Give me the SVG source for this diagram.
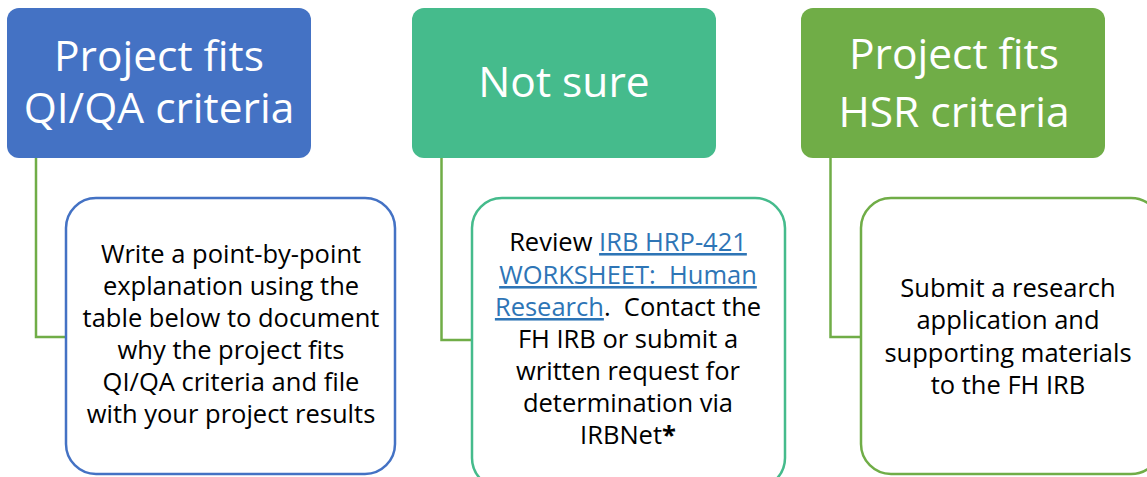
<svg xmlns="http://www.w3.org/2000/svg" width="1147" height="477" viewBox="0 0 1147 477">
<style>
.head{font-family:"Open Sans","Liberation Sans",sans-serif;font-size:42.5px;fill:#fff;text-anchor:middle}
.body{font-family:"Open Sans","Liberation Sans",sans-serif;font-size:25.5px;fill:#000;text-anchor:middle}
.link{fill:#2E75B6;text-decoration:underline}
.conn{fill:none;stroke:#70AD47;stroke-width:2.5}
.card{fill:#fff;stroke-width:2.5}
</style>
<rect width="1147" height="477" fill="#fff"/>
<g id="connectors">
<polyline class="conn" points="36,158 36,337 66,337"/>
<polyline class="conn" points="441.5,158 441.5,340 472,340"/>
<polyline class="conn" points="830.5,158 830.5,337 861,337"/>
</g>
<g id="qi-head">
<rect x="7" y="8" width="304" height="150" rx="12" fill="#4472C4"/>
<text class="head" x="159" y="71">Project fits</text>
<text class="head" x="159" y="123">QI/QA criteria</text>
</g>
<g id="unsure-head">
<rect x="412" y="8" width="304" height="150" rx="12" fill="#45BB8C"/>
<text class="head" x="564" y="97">Not sure</text>
</g>
<g id="hsr-head">
<rect x="801" y="8" width="304" height="150" rx="12" fill="#70AD47"/>
<text class="head" x="954" y="69">Project fits</text>
<text class="head" x="954" y="127">HSR criteria</text>
</g>
<g id="qi-card">
<rect class="card" x="66" y="198" width="329" height="276" rx="30" stroke="#4472C4"/>
<text class="body" x="231" y="263">Write a point-by-point</text>
<text class="body" x="231" y="295">explanation using the</text>
<text class="body" x="231" y="327">table below to document</text>
<text class="body" x="231" y="359">why the project fits</text>
<text class="body" x="231" y="391">QI/QA criteria and file</text>
<text class="body" x="231" y="423">with your project results</text>
</g>
<g id="unsure-card">
<rect class="card" x="472" y="198" width="313" height="290" rx="30" stroke="#45BB8C"/>
<text class="body" x="628" y="251">Review <tspan class="link">IRB HRP-421</tspan></text>
<text class="body" x="628" y="284"><tspan class="link">WORKSHEET:&#160; Human</tspan></text>
<text class="body" x="628" y="316"><tspan class="link">Research</tspan>.&#160; Contact the</text>
<text class="body" x="628" y="348">FH IRB or submit a</text>
<text class="body" x="628" y="380">written request for</text>
<text class="body" x="628" y="412">determination via</text>
<text class="body" x="628" y="444">IRBNet<tspan font-weight="bold">*</tspan></text>
</g>
<g id="hsr-card">
<rect class="card" x="861" y="198" width="300" height="276" rx="30" stroke="#70AD47"/>
<text class="body" x="1008" y="297">Submit a research</text>
<text class="body" x="1008" y="329">application and</text>
<text class="body" x="1008" y="362">supporting materials</text>
<text class="body" x="1008" y="394">to the FH IRB</text>
</g>
</svg>
